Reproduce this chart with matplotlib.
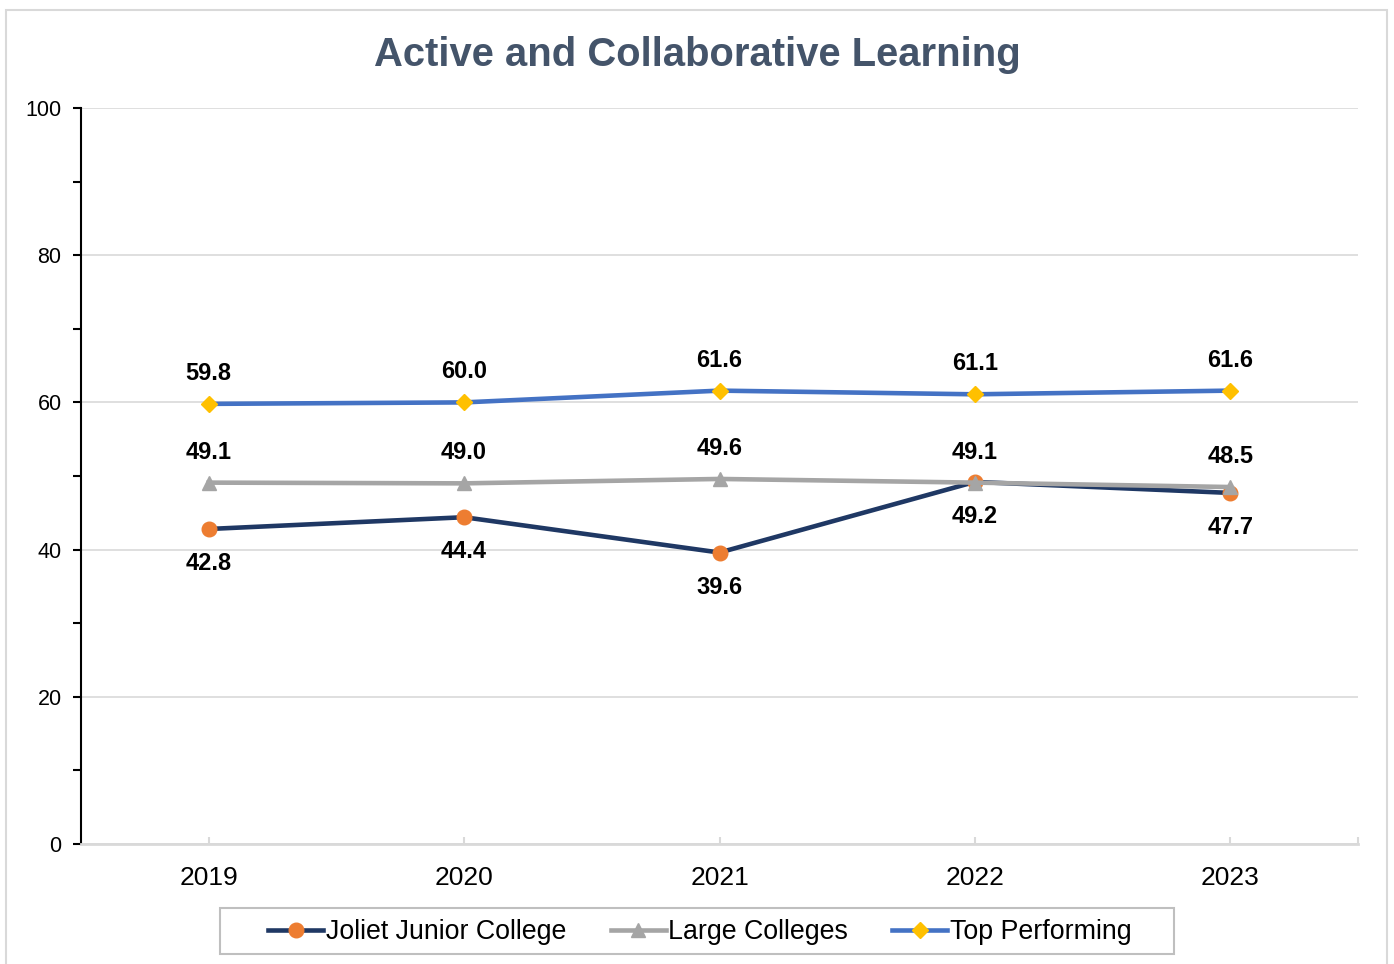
import matplotlib.pyplot as plt
from matplotlib.patches import Rectangle

# Dados do indicador por ano
anos = ['2019', '2020', '2021', '2022', '2023']
joliet = [42.8, 44.4, 39.6, 49.2, 47.7]
large = [49.1, 49.0, 49.6, 49.1, 48.5]
top = [59.8, 60.0, 61.6, 61.1, 61.6]

plt.rcParams['font.family'] = ['Liberation Sans', 'DejaVu Sans']

fig = plt.figure(figsize=(13.94, 9.64), dpi=100)
ax = fig.add_axes([81 / 1394, 120 / 964, 1277 / 1394, 736 / 964])

x = list(range(len(anos)))

ax.plot(x, joliet, color='#1F3864', lw=3.3, marker='o', ms=10.5,
        mfc='#ED7D31', mec='#ED7D31', label='Joliet Junior College', zorder=3)
ax.plot(x, large, color='#A5A5A5', lw=3.3, marker='^', ms=10.5,
        mfc='#A5A5A5', mec='#A5A5A5', label='Large Colleges', zorder=4)
ax.plot(x, top, color='#4472C4', lw=3.3, marker='D', ms=8,
        mfc='#FFC000', mec='#FFC000', label='Top Performing', zorder=3)

# Rótulos de valores
for i in x:
    ax.annotate(f'{top[i]:.1f}', (i, top[i]), xytext=(0, 22), textcoords='offset points',
                ha='center', va='center', fontsize=17, fontweight='bold')
    ax.annotate(f'{large[i]:.1f}', (i, large[i]), xytext=(0, 22), textcoords='offset points',
                ha='center', va='center', fontsize=17, fontweight='bold')
    ax.annotate(f'{joliet[i]:.1f}', (i, joliet[i]), xytext=(0, -25), textcoords='offset points',
                ha='center', va='center', fontsize=17, fontweight='bold')

ax.set_xlim(-0.5, 4.5)
ax.set_ylim(0, 100)
ax.set_xticks(x)
ax.set_xticklabels(anos, fontsize=19)
ax.set_xticks([4.5], minor=True)
ax.tick_params(axis='x', which='both', direction='in', length=5, width=1.5,
               color='#D9D9D9', pad=16)
ax.set_yticks(range(0, 101, 20))
ax.set_yticks(range(10, 100, 20), minor=True)
ax.tick_params(axis='y', which='both', direction='out', length=6, width=1.5,
               color='black', labelsize=15.5, pad=8)

ax.grid(axis='y', color='#D9D9D9', lw=1.2)
ax.set_axisbelow(True)
for s in ['top', 'right']:
    ax.spines[s].set_visible(False)
ax.spines['left'].set_color('black')
ax.spines['left'].set_linewidth(1.5)
ax.spines['bottom'].set_color('#D9D9D9')
ax.spines['bottom'].set_linewidth(2)

fig.text(0.5, 1 - 55 / 964, 'Active and Collaborative Learning', ha='center', va='center',
         fontsize=28.8, fontweight='bold', color='#44546A')

# Legenda sem moldura própria; a caixa é desenhada à parte
fig.legend(loc='center', bbox_to_anchor=(700 / 1394, 1 - 932 / 964), ncol=3, fontsize=19.3,
           frameon=False, handlelength=2.05, handletextpad=0.1, columnspacing=1.65,
           borderpad=0.0)
fig.patches.append(Rectangle((220 / 1394, 1 - 954 / 964), 954 / 1394, 46 / 964,
                             transform=fig.transFigure, fill=False,
                             edgecolor='#BFBFBF', lw=1.5))

# Moldura externa
fig.patches.append(Rectangle((6 / 1394, -0.02), 1381 / 1394, 1 - 10 / 964 + 0.02,
                             transform=fig.transFigure, fill=False,
                             edgecolor='#D9D9D9', lw=1.5))

plt.savefig('out.png', dpi=100)
